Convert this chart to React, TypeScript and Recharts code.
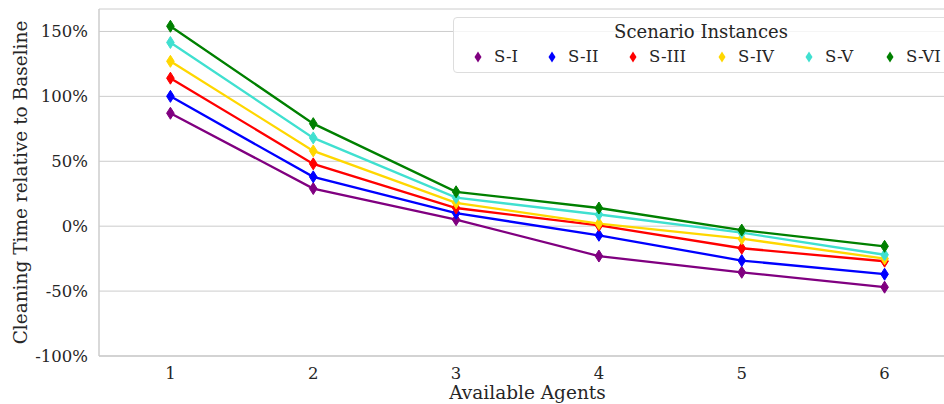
import { CartesianGrid, Line, LineChart, XAxis, YAxis } from "recharts";

const agents = [1, 2, 3, 4, 5, 6];
const scenarios = ["S-I", "S-II", "S-III", "S-IV", "S-V", "S-VI"];
const colors = ["#800080", "#0000ff", "#ff0000", "#ffd700", "#40e0d0", "#008000"];

const sI = [87, 29, 5, -23, -35.5, -47];
const sII = [100, 38, 10, -7, -26.5, -37];
const sIII = [114, 48, 14, 0.6, -17, -27];
const sIV = [127, 58, 18, 2, -9.6, -25];
const sV = [141.5, 68, 22, 9, -5, -22];
const sVI = [154, 79, 26.5, 14, -3, -15.5];

const yTicks = [-100, -50, 0, 50, 100, 150];

const series = [sI, sII, sIII, sIV, sV, sVI];
const data = agents.map((a, i) => {
  const row: Record<string, number> = { agents: a };
  scenarios.forEach((s, j) => {
    row[s] = series[j][i];
  });
  return row;
});

const font = "'DejaVu Serif', serif";
const textColor = "#262626";
const gridColor = "#cccccc";

function Diamond(props: any) {
  const { cx, cy, stroke } = props;
  if (cx == null || cy == null) return null;
  return (
    <polygon
      points={`${cx},${cy - 6} ${cx + 3.8},${cy} ${cx},${cy + 6} ${cx - 3.8},${cy}`}
      fill={stroke}
      stroke={stroke}
      strokeWidth={1}
    />
  );
}

function ScenarioLegend() {
  return (
    <div
      style={{
        position: "absolute",
        left: 453,
        top: 17,
        width: 520,
        height: 56,
        boxSizing: "border-box",
        border: "1px solid #dddddd",
        borderRadius: 4,
        background: "rgba(255,255,255,0.8)",
        fontFamily: font,
        color: textColor,
      }}
    >
      <div
        style={{
          position: "absolute",
          left: 0,
          width: 494,
          top: 3,
          textAlign: "center",
          fontSize: 18,
        }}
      >
        Scenario Instances
      </div>
      {scenarios.map((s, i) => {
        const left = [17, 91, 172, 261, 348, 429][i];
        return (
          <div
            key={s}
            style={{
              position: "absolute",
              left,
              top: 29,
              display: "flex",
              alignItems: "center",
              fontSize: 16.5,
              whiteSpace: "nowrap",
            }}
          >
            <svg width={14} height={14} style={{ marginRight: 9 }}>
              <polygon points="7,1.5 10.5,7 7,12.5 3.5,7" fill={colors[i]} />
            </svg>
            {s}
          </div>
        );
      })}
    </div>
  );
}

export default function App() {
  return (
    <div
      style={{
        position: "absolute",
        left: 0,
        top: 0,
        width: 944,
        height: 404,
        overflow: "hidden",
        background: "#fff",
      }}
    >
      <LineChart
        width={956}
        height={404}
        data={data}
        margin={{ top: 9, right: 0, bottom: 0, left: 0 }}
      >
        <CartesianGrid vertical={false} stroke={gridColor} strokeWidth={1} />
        <XAxis
          dataKey="agents"
          type="number"
          domain={[0.5, 6.5]}
          ticks={agents}
          height={48}
          axisLine={{ stroke: gridColor, strokeWidth: 1.5 }}
          tickLine={false}
          tickSize={0}
          tickMargin={11}
          tick={{ fill: textColor, fontFamily: font, fontSize: 16.5 }}
          label={{
            value: "Available Agents",
            position: "insideBottom",
            offset: 5,
            fill: textColor,
            fontFamily: font,
            fontSize: 18.5,
          }}
        />
        <XAxis
          xAxisId="top"
          orientation="top"
          dataKey="agents"
          type="number"
          domain={[0.5, 6.5]}
          height={0}
          tick={false}
          tickLine={false}
          axisLine={{ stroke: gridColor, strokeWidth: 1.5 }}
        />
        <YAxis
          type="number"
          domain={[-100, 167.3]}
          ticks={yTicks}
          allowDataOverflow
          width={99}
          axisLine={{ stroke: gridColor, strokeWidth: 1.5 }}
          tickLine={false}
          tickSize={0}
          tickMargin={11}
          tickFormatter={(v: number) => `${v}%`}
          tick={{ fill: textColor, fontFamily: font, fontSize: 16.5 }}
          label={{
            value: "Cleaning Time relative to Baseline",
            angle: -90,
            position: "insideLeft",
            offset: 20,
            style: { textAnchor: "middle" },
            fill: textColor,
            fontFamily: font,
            fontSize: 18.5,
          }}
        />
        {scenarios.map((s, i) => (
          <Line
            key={s}
            dataKey={s}
            stroke={colors[i]}
            strokeWidth={2.3}
            dot={<Diamond />}
            activeDot={false}
            isAnimationActive={false}
          />
        ))}
      </LineChart>
      <ScenarioLegend />
    </div>
  );
}
